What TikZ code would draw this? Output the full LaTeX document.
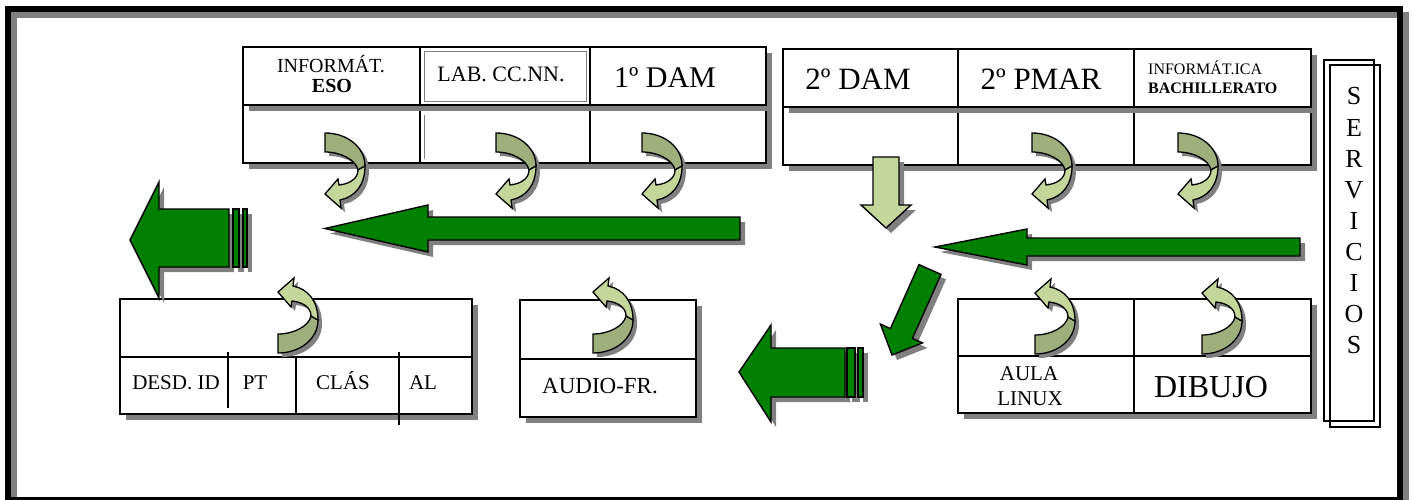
\documentclass[tikz,border=0pt]{standalone}
\usepackage{fontspec}
\setmainfont{Liberation Serif}
\definecolor{shadowgray}{HTML}{808080}
\definecolor{arrowgreen}{HTML}{008000}
\definecolor{lightgreen}{HTML}{C4D79B}
\definecolor{backgreen}{HTML}{9DB07C}
\tikzset{
  shadowc/.style={fill=shadowgray,draw=none},
  cellbox/.style={fill=white,draw=black,line width=1.8pt},
  greenarrow/.style={fill=arrowgreen,draw=black,line width=1.4pt,line join=miter},
  lightarrow/.style={fill=lightgreen,draw=black,line width=1.4pt,line join=miter},
  backpart/.style={fill=backgreen,draw=black,line width=1.3pt},
  frontpart/.style={fill=lightgreen,draw=black,line width=1.3pt},
  lbl/.style={inner sep=0pt,anchor=base},
  thinline/.style={draw=black,line width=1.8pt}
}
\newcommand\cellbx[4]{%
  \fill[shadowc,shift={(6,6)}] (#1,#2) rectangle (#3,#4);
  \path[cellbox] (#1,#2) rectangle (#3,#4);}
\newcommand\bendarrow[3]{%
  \begin{scope}[shift={(#1+4,#2+4)},yscale=#3]
    \fill[shadowgray] (0,0) .. controls (22,0) and (40,14) .. (40,33) -- (33,37) .. controls (31,27) and (16,19) .. (0,19) -- cycle;
    \fill[shadowgray] (40,33) .. controls (40,52) and (30,64) .. (15,67) -- (16,75) -- (0,61) -- (13,46) -- (14,52) .. controls (24,51) and (33,46) .. (33,37) -- cycle;
  \end{scope}
  \begin{scope}[shift={(#1,#2)},yscale=#3]
    \path[backpart] (0,0) .. controls (22,0) and (40,14) .. (40,33) -- (33,37) .. controls (31,27) and (16,19) .. (0,19) -- cycle;
    \path[frontpart] (40,33) .. controls (40,52) and (30,64) .. (15,67) -- (16,75) -- (0,61) -- (13,46) -- (14,52) .. controls (24,51) and (33,46) .. (33,37) -- cycle;
  \end{scope}}
\begin{document}
\begin{tikzpicture}[x=1pt,y=-1pt]
\useasboundingbox (0,0) rectangle (1412,500);
\fill[white] (0,0) rectangle (1412,500);
% frame
\draw[shadowgray,line width=6pt] (14,15.5) rectangle (1406,506);
\draw[black,line width=6pt] (8,9.5) rectangle (1400,499.5);

% top-left block
\cellbx{243}{105}{420}{163}
\cellbx{420}{105}{590}{163}
\cellbx{590}{105}{766}{163}
\cellbx{243}{47}{420}{105}
\cellbx{420}{47}{590}{105}
\cellbx{590}{47}{766}{105}
\draw[shadowgray,line width=0.9pt] (424,51) rectangle (586,101);
\draw[shadowgray,line width=0.9pt] (424,115) -- (424,159);

% top-right block
\cellbx{783}{107}{958}{165}
\cellbx{958}{107}{1134}{165}
\cellbx{1134}{107}{1311}{165}
\cellbx{783}{49}{958}{107}
\cellbx{958}{49}{1134}{107}
\cellbx{1134}{49}{1311}{107}

% servicios
\draw[line width=1.3pt] (1330,65) rectangle (1380,427);
\draw[line width=1.3pt] (1324,60) rectangle (1374,421);

% bottom-left block
\cellbx{120}{299}{472}{414}
\draw[thinline] (120,357) -- (472,357);
\draw[thinline] (296,357) -- (296,414);
\draw[thinline] (228,352) -- (228,408);
\draw[thinline] (399,352) -- (399,425);

% audio block
\cellbx{520}{300}{696}{417}
\draw[thinline] (520,359) -- (696,359);

% bottom-right block
\cellbx{958}{299}{1311}{413}
\draw[thinline] (958,356) -- (1311,356);
\draw[thinline] (1134,299) -- (1134,413);

% texts
\node[lbl,font=\fontsize{20}{24}\selectfont] (tinf) at (331,73) {INFORMÁT.};
\node[lbl,font=\fontsize{20}{24}\selectfont\bfseries] (teso) at (332,93) {ESO};
\node[lbl,font=\fontsize{22}{26}\selectfont] (tlab) at (501,82) {LAB. CC.NN.};
\node[lbl,font=\fontsize{30}{34}\selectfont] (tdam1) at (665,88) {1º DAM};
\node[lbl,font=\fontsize{31}{35}\selectfont] (tdam2) at (858,90) {2º DAM};
\node[lbl,font=\fontsize{31}{35}\selectfont] (tpmar) at (1041,90) {2º PMAR};
\node[inner sep=0pt,anchor=base west,font=\fontsize{16}{19}\selectfont] (tica) at (1148,75) {INFORMÁT.ICA};
\node[inner sep=0pt,anchor=base west,font=\fontsize{16}{19}\selectfont\bfseries] (tbach) at (1148,94) {BACHILLERATO};
\foreach \l [count=\i] in {S,E,R,V,I,C,I,O,S}{
  \node[lbl,font=\fontsize{26}{30}\selectfont] (serv\i) at (1354,{105+31*(\i-1)}) {\l};
}
\node[lbl,font=\fontsize{21}{25}\selectfont] (tdesd) at (176,389) {DESD. ID};
\node[lbl,font=\fontsize{21}{25}\selectfont] (tpt) at (255,389) {PT};
\node[lbl,font=\fontsize{21}{25}\selectfont] (tclas) at (343,389) {CLÁS};
\node[lbl,font=\fontsize{21}{25}\selectfont] (tal) at (423,389) {AL};
\node[lbl,font=\fontsize{23}{27}\selectfont] (taudio) at (600,393) {AUDIO-FR.};
\node[lbl,font=\fontsize{21}{25}\selectfont] (taula) at (1029,380) {AULA};
\node[lbl,font=\fontsize{21}{25}\selectfont] (tlinux) at (1030,405) {LINUX};
\node[lbl,font=\fontsize{32}{36}\selectfont] (tdib) at (1211,397) {DIBUJO};

% straight green arrows (shadows first)
\begin{scope}[shift={(5,5)}]
  \fill[shadowgray] (130,240) -- (159,182) -- (159,209) -- (229,209) -- (229,267) -- (159,267) -- (159,298) -- cycle;
  \fill[shadowgray] (233,209) rectangle (239,267);
  \fill[shadowgray] (243,209) rectangle (247,267);
  \fill[shadowgray] (325,228.5) -- (428,205) -- (428,217) -- (740,217) -- (740,240) -- (428,240) -- (428,252) -- cycle;
  \fill[shadowgray] (935,247) -- (1027,229) -- (1027,238) -- (1300,238) -- (1300,256) -- (1027,256) -- (1027,265) -- cycle;
  \fill[shadowgray] (739,372) -- (771,325) -- (771,348) -- (845,348) -- (845,397) -- (771,397) -- (771,422) -- cycle;
  \fill[shadowgray] (847,348) rectangle (855,397);
  \fill[shadowgray] (858,348) rectangle (863,397);
  \fill[shadowgray] (919,264.6) -- (941,274.4) -- (912.4,338.4) -- (922.4,342.9) -- (892,355) -- (880.4,324.1) -- (890.4,328.6) -- cycle;
  \fill[shadowgray] (873,157) -- (899,157) -- (899,205) -- (911,205) -- (886,228) -- (861,205) -- (873,205) -- cycle;
\end{scope}
\path[greenarrow] (130,240) -- (159,182) -- (159,209) -- (229,209) -- (229,267) -- (159,267) -- (159,298) -- cycle;
\path[greenarrow] (233,209) rectangle (239,267);
\path[greenarrow] (243,209) rectangle (247,267);
\path[greenarrow] (325,228.5) -- (428,205) -- (428,217) -- (740,217) -- (740,240) -- (428,240) -- (428,252) -- cycle;
\path[greenarrow] (935,247) -- (1027,229) -- (1027,238) -- (1300,238) -- (1300,256) -- (1027,256) -- (1027,265) -- cycle;
\path[greenarrow] (739,372) -- (771,325) -- (771,348) -- (845,348) -- (845,397) -- (771,397) -- (771,422) -- cycle;
\path[greenarrow] (847,348) rectangle (855,397);
\path[greenarrow] (858,348) rectangle (863,397);
\path[greenarrow] (919,264.6) -- (941,274.4) -- (912.4,338.4) -- (922.4,342.9) -- (892,355) -- (880.4,324.1) -- (890.4,328.6) -- cycle;
\path[lightarrow] (873,157) -- (899,157) -- (899,205) -- (911,205) -- (886,228) -- (861,205) -- (873,205) -- cycle;

% curved arrows
\bendarrow{325}{133}{1}
\bendarrow{496}{133}{1}
\bendarrow{642}{133}{1}
\bendarrow{1032}{133}{1}
\bendarrow{1178}{133}{1}
\bendarrow{278}{353}{-1}
\bendarrow{593}{353}{-1}
\bendarrow{1035}{354}{-1}
\bendarrow{1202}{354}{-1}
\end{tikzpicture}
\end{document}
